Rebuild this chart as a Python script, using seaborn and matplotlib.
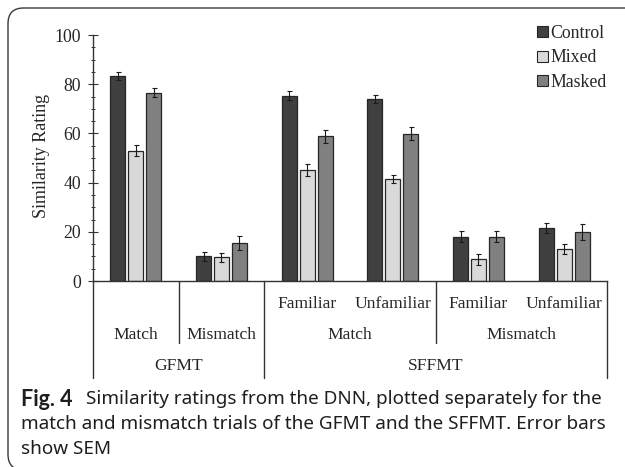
import numpy as np
import pandas as pd
import seaborn as sns
import matplotlib.pyplot as plt
import matplotlib.transforms as mtransforms
from matplotlib.patches import FancyBboxPatch
from matplotlib.ticker import MultipleLocator

# =============================================================================
# Data
categories = ['GFMT Match', 'GFMT Mismatch',
              'SFFMT Match Familiar', 'SFFMT Match Unfamiliar',
              'SFFMT Mismatch Familiar', 'SFFMT Mismatch Unfamiliar']
sub_labels = ['', '', 'Familiar', 'Unfamiliar', 'Familiar', 'Unfamiliar']
trial_labels = ['Match', 'Mismatch', 'Match', 'Mismatch']
trial_spans = [(0, 0), (1, 1), (2, 3), (4, 5)]
test_labels = ['GFMT', 'SFFMT']
test_spans = [(0, 1), (2, 5)]

conditions = ['Control', 'Mixed', 'Masked']
control = [83.3, 10.1, 75.4, 73.9, 18.0, 21.4]
control_sem = [1.5, 1.8, 2.0, 1.6, 2.2, 2.0]
mixed = [53.0, 9.6, 45.1, 41.5, 8.8, 12.9]
mixed_sem = [2.1, 1.9, 2.6, 1.6, 2.1, 2.0]
masked = [76.6, 15.4, 58.8, 59.9, 18.0, 19.9]
masked_sem = [1.7, 2.7, 2.6, 2.5, 2.2, 3.2]

caption_bold = 'Fig. 4'
caption_lines = ['Similarity ratings from the DNN, plotted separately for the',
                 'match and mismatch trials of the GFMT and the SFFMT. Error bars',
                 'show SEM']

# =============================================================================
sns.set_theme(style='ticks')
plt.rcParams['font.family'] = ['Liberation Serif', 'DejaVu Serif']

W, H = 625, 467
fig = plt.figure(figsize=(W / 100, H / 100), dpi=100)
fig.patch.set_facecolor('white')


def fx(x):
    return x / W


def fy(y):
    return 1 - y / H


# axes: x 93..607 px, y (0 -> 281 px, 100 -> 35 px)
ax = fig.add_axes([fx(93), fy(281), (607 - 93) / W, (281 - 35) / H])
ax.set_facecolor('white')

df = pd.DataFrame({
    'cat': categories * 3,
    'cond': np.repeat(conditions, len(categories)),
    'rating': control + mixed + masked,
})
sems = [control_sem, mixed_sem, masked_sem]
colors = ['#404040', '#d9d9d9', '#808080']
txt_col = '#262626'
line_col = '#333333'

sns.barplot(data=df, x='cat', y='rating', hue='cond', order=categories,
            hue_order=conditions, palette=colors, width=0.63, gap=0.16,
            edgecolor='#262626', linewidth=0.9, errorbar=None, ax=ax)

bar_conts = list(ax.containers)
for i, cont in enumerate(bar_conts):
    xs = [b.get_x() + b.get_width() / 2 for b in cont]
    ys = [b.get_height() for b in cont]
    ax.errorbar(xs, ys, yerr=sems[i], fmt='none', ecolor='#1a1a1a',
                elinewidth=0.8, capsize=1.8, capthick=0.8, zorder=5)

ax.set_xlim(-0.5, 5.5)
ax.set_ylim(0, 100)
ax.set_xlabel('')
ax.set_ylabel('')
sns.despine(ax=ax)
for s in ['left', 'bottom']:
    ax.spines[s].set_color(line_col)
    ax.spines[s].set_linewidth(1.0)
ax.tick_params(axis='x', length=0, labelbottom=False)
ax.set_yticks(np.arange(0, 101, 20))
ax.yaxis.set_minor_locator(MultipleLocator(5))
ax.tick_params(axis='y', which='major', direction='inout', length=7,
               width=0.8, color=line_col, pad=5, labelsize=12.8,
               labelcolor=txt_col)
ax.tick_params(axis='y', which='minor', direction='inout', length=3,
               width=0.7, color=line_col)

fig.text(fx(42), fy(156), 'Similarity Rating', rotation=90, ha='center',
         va='center', fontsize=13, color=txt_col)

# multi-level category axis
trans = mtransforms.blended_transform_factory(ax.transData, ax.transAxes)
for xb, yb in [(-0.5, -0.395), (0.5, -0.25), (1.5, -0.395),
               (3.5, -0.25), (5.5, -0.395)]:
    ax.plot([xb, xb], [0, yb], color=line_col, lw=1.0, transform=trans,
            clip_on=False)
for i, lab in enumerate(sub_labels):
    if lab:
        ax.text(i, -0.093, lab, transform=trans, ha='center', va='center',
                fontsize=12.6, color=txt_col)
for lab, (a, b) in zip(trial_labels, trial_spans):
    ax.text((a + b) / 2, -0.219, lab, transform=trans, ha='center',
            va='center', fontsize=12.6, color=txt_col)
for lab, (a, b) in zip(test_labels, test_spans):
    ax.text((a + b) / 2, -0.345, lab, transform=trans, ha='center',
            va='center', fontsize=12.6, color=txt_col)

# legend
leg = ax.get_legend()
handles = leg.legend_handles
labels = [t.get_text() for t in leg.texts]
leg.remove()
for h in handles:
    h.set_edgecolor('#262626')
    h.set_linewidth(0.8)
ax.legend(handles, labels, loc='upper left',
          bbox_to_anchor=(fx(537), fy(25)), bbox_transform=fig.transFigure,
          frameon=False, handlelength=0.6, handleheight=0.6,
          handletextpad=0.15, labelspacing=0.42, fontsize=12.8,
          labelcolor=txt_col, borderpad=0, borderaxespad=0)

# caption
cap_kw = dict(color='#1e1e1e', va='center')
fig.text(fx(21), fy(399), caption_bold, fontweight='bold', fontsize=15.5,
         family=['Lato', 'DejaVu Sans'], **cap_kw)
fig.text(fx(86), fy(399), caption_lines[0], fontsize=13.6,
         family=['Noto Sans', 'DejaVu Sans'], **cap_kw)
fig.text(fx(21), fy(424), caption_lines[1], fontsize=13.6,
         family=['Noto Sans', 'DejaVu Sans'], **cap_kw)
fig.text(fx(21), fy(449), caption_lines[2], fontsize=13.6,
         family=['Noto Sans', 'DejaVu Sans'], **cap_kw)

# rounded frame
frame = FancyBboxPatch((fx(8), fy(470)), fx(650 - 8), (470 - 8) / H,
                       boxstyle='round,pad=0,rounding_size=0.025',
                       transform=fig.transFigure, facecolor='none',
                       edgecolor='#3a3a3a', linewidth=1.0, clip_on=False,
                       mutation_aspect=W / H)
fig.patches.append(frame)

fig.savefig('out.png', dpi=100)
